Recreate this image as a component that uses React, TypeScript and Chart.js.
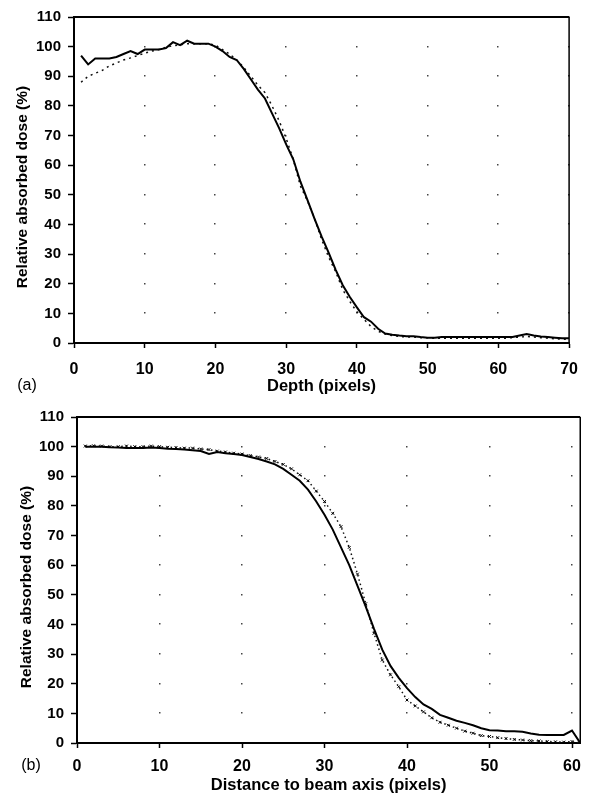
import React, { useEffect, useRef } from "react";
import { Chart, registerables } from "chart.js";

Chart.register(...registerables);

// ---- Panel (a): depth dose ----
const depthPixels = [
  1, 2, 3, 4, 5, 6, 7, 8, 9, 10, 11, 12, 13, 14, 15, 16, 17, 18, 19, 20,
  21, 22, 23, 24, 25, 26, 27, 28, 29, 30, 31, 32, 33, 34, 35, 36, 37, 38, 39, 40,
  41, 42, 43, 44, 45, 46, 47, 48, 49, 50, 51, 52, 53, 54, 55, 56, 57, 58, 59, 60,
  61, 62, 63, 64, 65, 66, 67, 68, 69, 70,
];
const depthMeasured = [
  97, 94, 96, 96, 96, 96.5, 97.5, 98.5, 97.5, 99, 99, 99, 99.5, 101.5, 100.5, 102, 101, 101, 101, 100,
  98.5, 96.5, 95.5, 92.5, 89, 85.5, 82.5, 77.5, 72.5, 67, 62, 54.5, 48.3, 42, 36, 30.5, 24.7, 19.5, 15.5, 12,
  8.7, 7.2, 4.8, 3.2, 2.8, 2.5, 2.3, 2.3, 2, 1.8, 1.8, 2, 2, 2, 2, 2, 2, 2, 2, 2,
  2, 2, 2.5, 3, 2.5, 2.2, 2, 1.8, 1.6, 1.6,
];
const depthReference = [
  88, 90, 91, 92, 93.5, 94.5, 95.5, 96.2, 97, 97.8, 98.5, 99, 99.8, 100.3, 100.6, 101, 101, 101, 101, 100.5,
  99, 97.5, 95.5, 93, 90, 87, 84.5, 80, 75, 69, 62, 53, 48, 42, 35, 29, 24, 18, 14, 10.5,
  8, 5.5, 4, 3, 2.5, 2.2, 2, 2, 1.8, 1.8, 1.6, 1.6, 1.6, 1.6, 1.6, 1.6, 1.6, 1.6, 1.6, 1.6,
  1.6, 1.8, 2, 2.2, 2, 1.8, 1.6, 1.4, 1.3, 1.3,
];

// ---- Panel (b): lateral profile ----
const beamDistance = [
  1, 2, 3, 4, 5, 6, 7, 8, 9, 10, 11, 12, 13, 14, 15, 16, 17, 18, 19, 20,
  21, 22, 23, 24, 25, 26, 27, 28, 29, 30, 31, 32, 33, 34, 35, 36, 37, 38, 39, 40,
  41, 42, 43, 44, 45, 46, 47, 48, 49, 50, 51, 52, 53, 54, 55, 56, 57, 58, 59, 60, 61,
];
const profileMeasured = [
  100, 100, 100, 99.8, 99.7, 99.5, 99.5, 99.5, 99.7, 99.5, 99.3, 99.2, 99, 98.8, 98.5, 97.5, 98.2, 97.8, 97.5, 97.2,
  96.5, 95.8, 95, 94, 92.5, 90.5, 88.5, 85.5, 81.5, 77, 72, 66, 60, 53, 46, 38.5, 31.5, 26, 22, 18.5,
  15.5, 13, 11.5, 9.5, 8.5, 7.5, 6.8, 6, 5, 4.3, 4.2, 4, 4, 3.8, 3.2, 2.8, 2.7, 2.7, 2.7, 4.2, 0,
];
const profileReference = [
  100.2, 100.3, 100.2, 100, 100, 100.2, 100, 100, 100.2, 100, 99.8, 99.7, 99.5, 99.5, 99.2, 99, 98.5, 98.2, 97.8, 97.5,
  97, 96.5, 96, 95, 94, 92.5, 90.5, 88.5, 85, 81.5, 77.5, 73, 66, 57, 47, 37, 28, 23, 19, 14.5,
  12.5, 10.5, 8.5, 7, 6, 5, 4, 3.3, 2.5, 2.2, 1.8, 1.5, 1.2, 1, 0.8, 0.7, 0.5, 0.4, 0.3, 0.5, 0,
];

const doseTicksMax = 110;
const tickStep = 10;

const FONT = "'Liberation Sans', Arial, sans-serif";

type PanelCfg = {
  xs: number[];
  measured: number[];
  reference: number[];
  xMax: number;
  xTitle: string;
  yTitle: string;
  panelLabel: string;
  yAxisWidth: number;
  padRight: number;
  xLabelPad: number;
  xTitlePadBottom: number;
  yTitleOffset: number;
  labelX: number;
  labelY: number;
  referenceMarkers: boolean;
};

function decorPlugin(cfg: PanelCfg) {
  return {
    id: "decor",
    beforeDatasetsDraw(chart: any) {
      const { ctx, scales } = chart;
      const x = scales.x;
      const y = scales.y;
      ctx.save();
      ctx.fillStyle = "#444";
      x.ticks.forEach((t: any) => {
        if (t.value === 0) return;
        y.ticks.forEach((u: any) => {
          if (u.value === 0) return;
          const px = Math.round(x.getPixelForValue(t.value));
          const py = Math.round(y.getPixelForValue(u.value));
          ctx.fillRect(px - 1, py - 1, 1.5, 1.5);
        });
      });
      ctx.restore();
    },
    afterDraw(chart: any) {
      const { ctx, chartArea: a } = chart;
      ctx.save();
      ctx.strokeStyle = "#000";
      ctx.lineWidth = 2;
      ctx.beginPath();
      ctx.moveTo(a.left, a.top);
      ctx.lineTo(a.right, a.top);
      ctx.stroke();
      ctx.lineWidth = 1.5;
      ctx.beginPath();
      ctx.moveTo(a.right, a.top);
      ctx.lineTo(a.right, a.bottom);
      ctx.stroke();

      // y-axis title
      ctx.fillStyle = "#000";
      ctx.font = `bold 15.5px ${FONT}`;
      ctx.textAlign = "center";
      ctx.textBaseline = "middle";
      ctx.translate(cfg.yTitleOffset, (a.top + a.bottom) / 2 + 7);
      ctx.rotate(-Math.PI / 2);
      ctx.fillText(cfg.yTitle, 0, 0);
      ctx.restore();

      // panel label
      ctx.save();
      ctx.fillStyle = "#000";
      ctx.font = `16px ${FONT}`;
      ctx.textAlign = "center";
      ctx.textBaseline = "middle";
      ctx.fillText(cfg.panelLabel, cfg.labelX, cfg.labelY);
      ctx.restore();
    },
  };
}

function Panel({ cfg }: { cfg: PanelCfg }) {
  const ref = useRef<HTMLCanvasElement | null>(null);
  useEffect(() => {
    if (!ref.current) return;
    const chart = new Chart(ref.current, {
      type: "line",
      data: {
        datasets: [
          {
            label: "Measured",
            data: cfg.xs.map((v, i) => ({ x: v, y: cfg.measured[i] })),
            borderColor: "#000",
            borderWidth: 2,
            pointRadius: 0,
            tension: 0,
          },
          {
            label: "Reference",
            data: cfg.xs.map((v, i) => ({ x: v, y: cfg.reference[i] })),
            borderColor: "#111",
            borderWidth: 1.5,
            borderDash: cfg.referenceMarkers ? [1.5, 3] : [2, 4],
            pointRadius: cfg.referenceMarkers ? 2 : 0,
            pointStyle: "crossRot",
            pointBorderColor: "#000",
            pointBorderWidth: 1,
            tension: 0,
          },
        ],
      },
      options: {
        responsive: false,
        animation: false,
        layout: { padding: { top: 17, right: cfg.padRight, left: 0, bottom: 0 } },
        plugins: { legend: { display: false }, tooltip: { enabled: false } },
        scales: {
          x: {
            type: "linear",
            min: 0,
            max: cfg.xMax,
            afterFit: (s: any) => {
              s.height = 57;
            },
            ticks: {
              stepSize: tickStep,
              includeBounds: false,
              maxRotation: 0,
              padding: cfg.xLabelPad,
              color: "#000",
              font: { family: FONT, size: 16, weight: "bold" },
            },
            grid: {
              display: true,
              drawOnChartArea: false,
              drawTicks: true,
              tickLength: 5,
              tickColor: "#000",
              tickWidth: 1.5,
            },
            border: { display: true, color: "#000", width: 2 },
            title: {
              display: true,
              text: cfg.xTitle,
              color: "#000",
              font: { family: FONT, size: 16.5, weight: "bold" },
              padding: { top: 0, bottom: cfg.xTitlePadBottom },
            },
          },
          y: {
            type: "linear",
            min: 0,
            max: doseTicksMax,
            afterFit: (s: any) => {
              s.width = cfg.yAxisWidth;
            },
            ticks: {
              stepSize: tickStep,
              padding: 7,
              color: "#000",
              font: { family: FONT, size: 15, weight: "bold" },
            },
            grid: {
              display: true,
              drawOnChartArea: false,
              drawTicks: true,
              tickLength: 6,
              tickColor: "#000",
              tickWidth: 1.5,
            },
            border: { display: true, color: "#000", width: 2 },
          },
        },
      } as any,
      plugins: [decorPlugin(cfg)],
    });
    return () => chart.destroy();
  }, [cfg]);
  return <canvas ref={ref} width={590} height={400} style={{ display: "block" }} />;
}

const panelA: PanelCfg = {
  xs: depthPixels,
  measured: depthMeasured,
  reference: depthReference,
  xMax: 70,
  xTitle: "Depth (pixels)",
  yTitle: "Relative absorbed dose (%)",
  panelLabel: "(a)",
  yAxisWidth: 74,
  padRight: 11,
  xLabelPad: 12,
  xTitlePadBottom: 4,
  yTitleOffset: 23,
  labelX: 27,
  labelY: 386,
  referenceMarkers: false,
};

const panelB: PanelCfg = {
  xs: beamDistance,
  measured: profileMeasured,
  reference: profileReference,
  xMax: 61,
  xTitle: "Distance to beam axis (pixels)",
  yTitle: "Relative absorbed dose (%)",
  panelLabel: "(b)",
  yAxisWidth: 77,
  padRight: 6,
  xLabelPad: 9,
  xTitlePadBottom: 5,
  yTitleOffset: 27,
  labelX: 31,
  labelY: 366,
  referenceMarkers: true,
};

export default function App() {
  return (
    <div style={{ position: "absolute", left: 0, top: 0, width: 590, height: 800, background: "#fff" }}>
      <Panel cfg={panelA} />
      <Panel cfg={panelB} />
    </div>
  );
}
